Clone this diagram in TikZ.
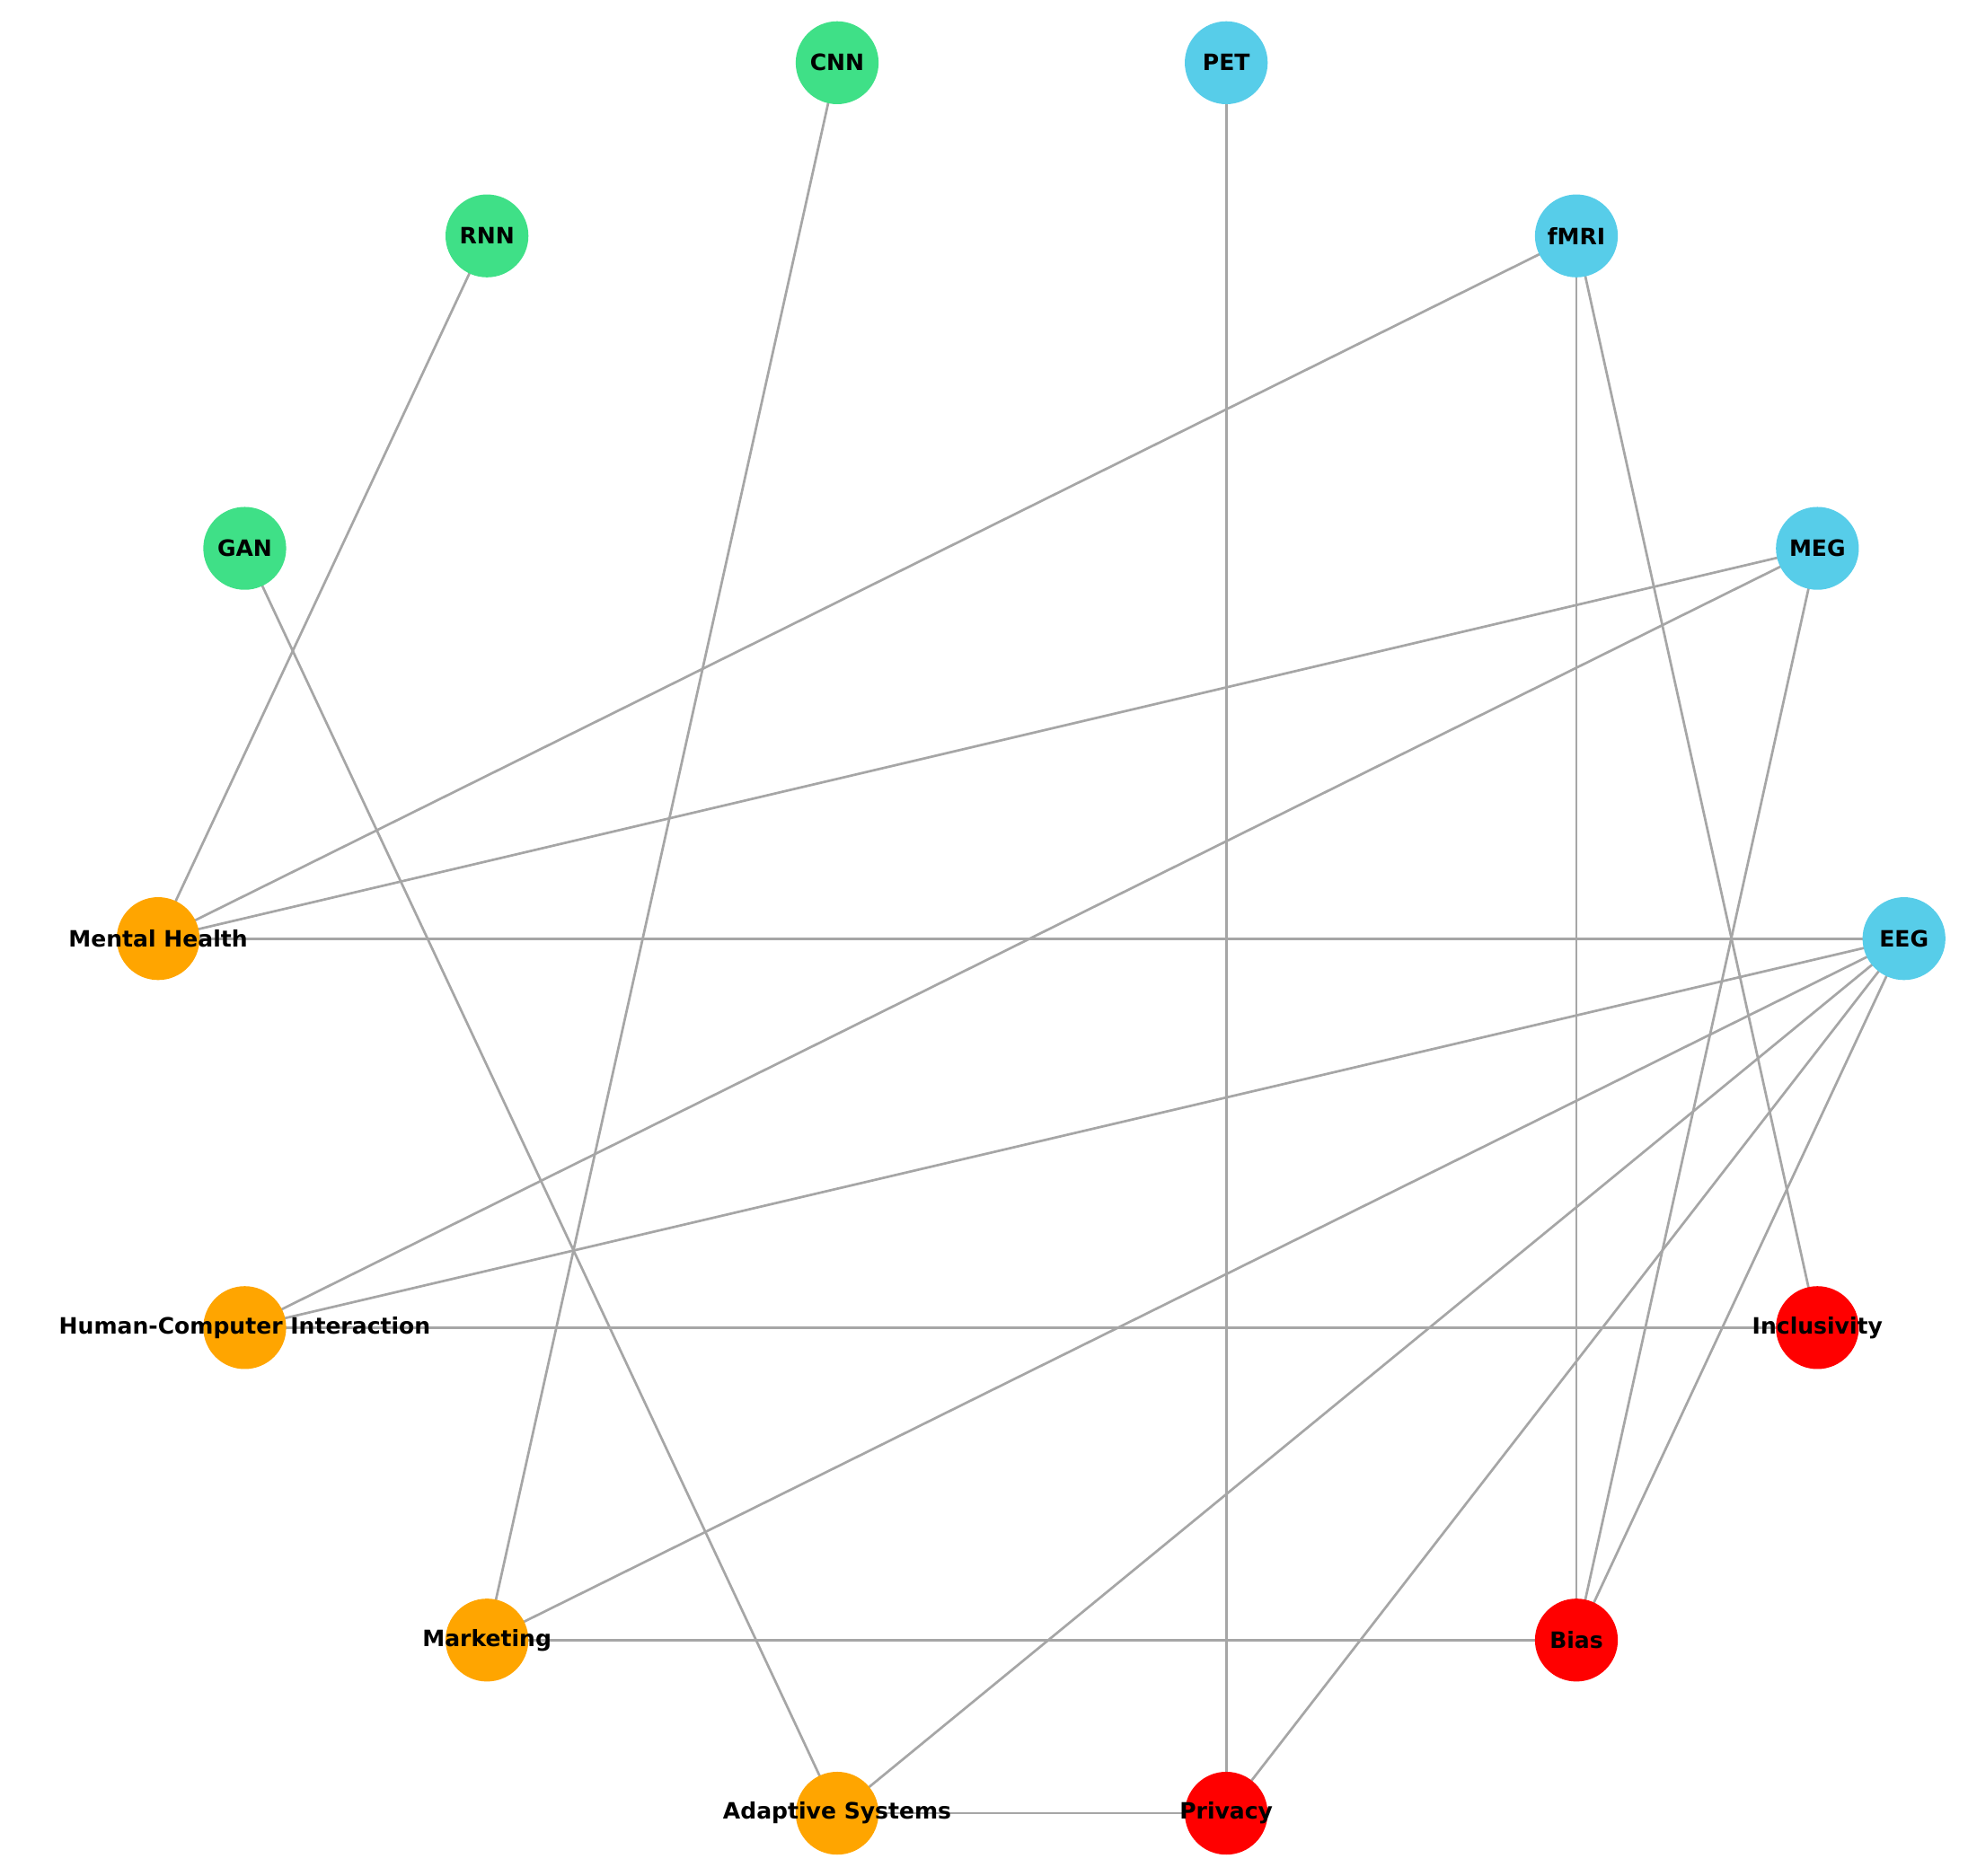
\documentclass[tikz,border=0pt]{standalone}
\usepackage{fontspec}
\setmainfont{DejaVu Sans}
\usetikzlibrary{backgrounds}
\definecolor{cgreen}{HTML}{3FE087}
\definecolor{cblue}{HTML}{57CDE9}
\definecolor{corange}{HTML}{FFA500}
\definecolor{cred}{HTML}{FF0000}

\begin{document}
\begin{tikzpicture}[x=0.01cm, y=-0.01cm]
    % Define styles
    \tikzset{
      topic/.style={circle, minimum size=0.66cm, inner sep=0pt,
        label={[font=\fontsize{5.1}{6}\selectfont\bfseries, inner sep=0pt]center:#1}},
      model/.style={topic=#1, fill=cgreen},
      method/.style={topic=#1, fill=cblue},
      field/.style={topic=#1, fill=corange},
      issue/.style={topic=#1, fill=cred},
      link/.style={draw=gray!70, line width=0.55pt}
    }
    \useasboundingbox (0,0) rectangle (1568,1495);

    % Nodes
    \node [model=CNN] (cnn) at (667,50) {};
    \node [method=PET] (pet) at (977,50) {};
    \node [model=RNN] (rnn) at (388,188) {};
    \node [method=fMRI] (fmri) at (1256,188) {};
    \node [model=GAN] (gan) at (195,437) {};
    \node [method=MEG] (meg) at (1448,437) {};
    \node [field=Mental Health] (mh) at (126,748) {};
    \node [method=EEG] (eeg) at (1517,748) {};
    \node [field=Human-Computer Interaction] (hci) at (195,1058) {};
    \node [issue=Inclusivity] (incl) at (1448,1058) {};
    \node [field=Marketing] (mkt) at (388,1307) {};
    \node [issue=Bias] (bias) at (1256,1307) {};
    \node [field=Adaptive Systems] (adapt) at (667,1445) {};
    \node [issue=Privacy] (priv) at (977,1445) {};

    % Edges
    \begin{pgfonlayer}{background}
    \draw [link] (rnn.center) -- (mh.center);
    \draw [link] (cnn.center) -- (mkt.center);
    \draw [link] (pet.center) -- (priv.center);
    \draw [link] (fmri.center) -- (mh.center);
    \draw [link] (fmri.center) -- (bias.center);
    \draw [link] (fmri.center) -- (incl.center);
    \draw [link] (gan.center) -- (adapt.center);
    \draw [link] (meg.center) -- (mh.center);
    \draw [link] (meg.center) -- (hci.center);
    \draw [link] (meg.center) -- (bias.center);
    \draw [link] (eeg.center) -- (mh.center);
    \draw [link] (eeg.center) -- (hci.center);
    \draw [link] (eeg.center) -- (mkt.center);
    \draw [link] (eeg.center) -- (adapt.center);
    \draw [link] (eeg.center) -- (priv.center);
    \draw [link] (eeg.center) -- (bias.center);
    \draw [link] (hci.center) -- (incl.center);
    \draw [link] (mkt.center) -- (bias.center);
    \draw [link] (adapt.center) -- (priv.center);
    \end{pgfonlayer}
\end{tikzpicture}
\end{document}
